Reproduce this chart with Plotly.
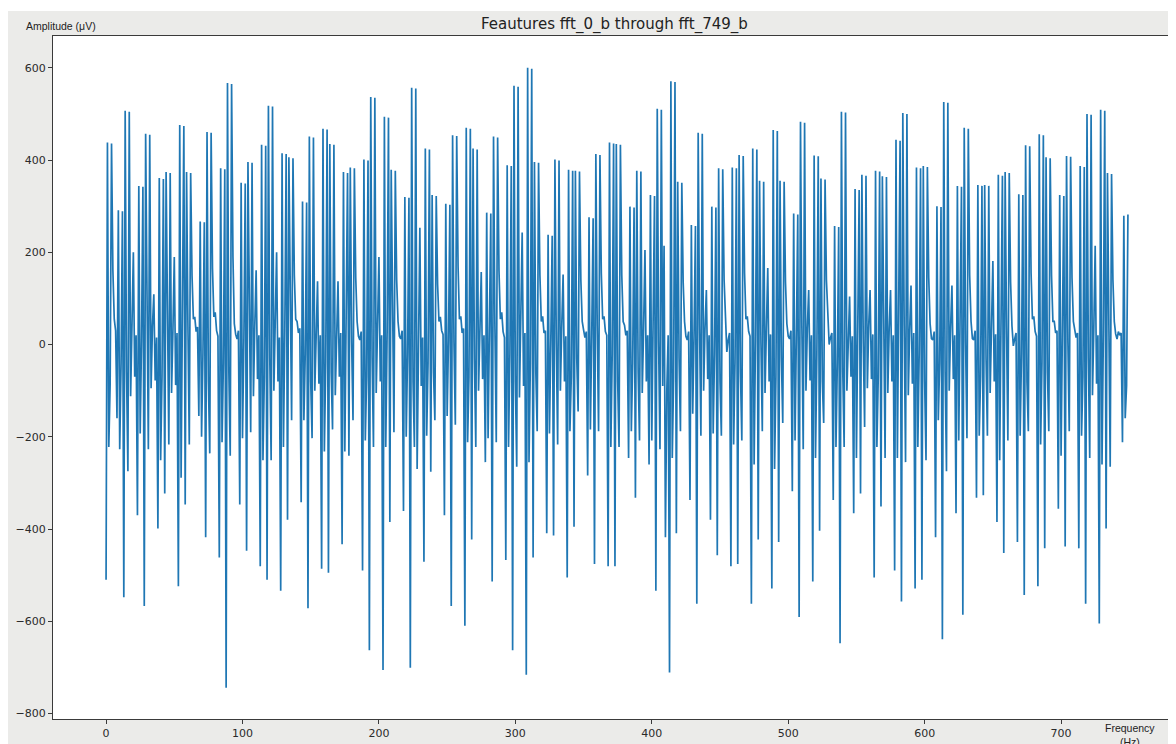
import plotly.graph_objects as go

# Amplitude values (uV), features fft_0_b .. fft_749_b
amp_part1 = [
    -510, 438, -222, -85, 436, 160, 55, 30,
    -160, 291, -227, -40, 289, -548, 507, -60, -275, 505, -112, 35, 200, -70, 20,
    -370, 344, -193, 10, 342, -567, 457, 5, -227, 455, -95, 40, 109, -78, 15,
    -399, 361, -251, -70, 359, -323, 374, -30, -217, 372, -105, 30, 190, -88, 25,
    -524, 476, -289, 25, 474, -347, 374, 40, -217, 372, 150, 55, 60, 28, 38,
    -155, 267, -200, -20, 265, -418, 461, -80, -236, 459, 165, 60, 70, 30, 18,
    -462, 382, -212, -40, 380, -744, 567, -60, -241, 565, 190, 45, 22, 12, 30,
    -347, 351, -203, 10, 349, -447, 396, 5, -190, 394, -112, 40, 161, -75, 20,
    -481, 433, -251, -70, 431, -510, 518, -30, -251, 516, -100, 35, 200, -80, 15,
    -534, 415, -222, 25, 413, -380, 406, 40, -164, 404, 150, 55, 50, 25, 35,
    -342, 310, -164, -20, 308, -572, 451, -80, -203, 449, -100, 30, 137, -85, 20,
]
amp_part2 = [
    -486, 468, -232, -40, 466, -495, 435, -60, -184, 433, -110, 35, 137, -70, 25,
    -433, 374, -232, 10, 372, -241, 384, 5, -164, 382, 145, 50, 18, 10, 28,
    -490, 401, -208, -70, 399, -663, 537, -30, -222, 535, -105, 40, 190, -80, 20,
    -706, 494, -222, 25, 492, -385, 379, 40, -190, 377, 140, 50, 18, 12, 30,
    -361, 320, -200, -20, 318, -701, 557, -80, -222, 555, -270, 30, 253, -90, 15,
    -471, 425, -198, -40, 423, -276, 324, -60, -164, 322, 130, 50, 60, 30, 22,
    -370, 305, -155, 10, 303, -567, 454, 5, -174, 452, 170, 55, 61, 25, 35,
    -610, 470, -212, -70, 468, -423, 425, -30, -222, 423, -100, 35, 157, -75, 20,
    -255, 286, -203, 25, 284, -514, 451, 40, -212, 449, 160, 55, 70, 28, 15,
    -467, 389, -222, -20, 387, -663, 561, -80, -265, 559, -115, 30, 243, -90, 25,
]
amp_part3 = [
    -716, 600, -255, -40, 598, -462, 396, -60, -188, 394, 150, 50, 61, 25, 30,
    -409, 238, -193, 10, 236, -414, 401, 5, -217, 399, -100, 40, 152, -80, 18,
    -505, 379, -188, -70, 377, -395, 377, -30, -145, 375, 140, 50, 32, 15, 28,
    -284, 276, -184, 25, 274, -476, 413, 40, -188, 411, 155, 55, 61, 28, 20,
    -481, 438, -222, -20, 436, -481, 435, -80, -222, 433, 150, 50, 42, 20, 30,
    -246, 299, -188, -40, 297, -332, 377, -60, -208, 375, -105, 35, 205, -80, 20,
    -260, 324, -208, 10, 322, -534, 511, 5, -227, 509, -90, 214, -418, -100, 20,
    -711, 571, -246, -70, 569, -409, 353, -30, -188, 351, 135, 50, 18, 10, 28,
    -337, 259, -150, 25, 257, -562, 459, 40, -198, 457, -100, 35, 118, -75, 20,
    -380, 299, -193, -20, 297, -457, 382, -80, -198, 380, 140, 40, -16, 10, 25,
]
amp_part4 = [
    -481, 384, -217, -40, 382, -476, 411, -60, -208, 409, 155, 55, 61, 28, 18,
    -562, 425, -260, 10, 423, -423, 355, 5, -188, 353, -105, 35, 166, -80, 22,
    -529, 465, -270, -70, 463, -428, 355, -30, -170, 353, 135, 45, 18, 12, 30,
    -318, 284, -208, 25, 282, -591, 483, 40, -227, 481, -100, 35, 118, -78, 20,
    -514, 410, -246, -20, 408, -404, 360, -80, -170, 358, 140, 45, 0, 15, 25,
    -337, 257, -222, -40, 255, -648, 505, -60, -222, 503, -100, 35, 104, -70, 18,
    -366, 337, -246, 10, 335, -323, 368, 5, -179, 366, -95, 40, 118, -75, 22,
    -505, 377, -222, -70, 375, -351, 365, -30, -246, 363, -105, 35, 118, -80, 20,
    -490, 444, -246, 25, 442, -557, 502, 40, -255, 500, -110, 30, 128, -85, 25,
    -529, 384, -222, -20, 382, -510, 387, -80, -251, 385, 145, 45, 13, 10, 28,
]
amp_part5 = [
    -418, 300, -164, -40, 298, -639, 526, -60, -275, 524, -100, 35, 128, -75, 20,
    -366, 344, -208, 10, 342, -586, 470, 5, -203, 468, 150, 50, 13, 10, 30,
    -332, 346, -198, -70, 344, -327, 346, -30, -198, 344, -105, 35, 181, -80, 22,
    -385, 368, -251, 25, 366, -452, 374, 40, -208, 372, 135, 40, -3, 12, 25,
    -428, 326, -198, -20, 324, -543, 432, -80, -188, 430, 155, 55, 61, 28, 18,
    -524, 456, -217, -40, 454, -442, 406, -60, -188, 404, 150, 50, 50, 25, 30,
    -356, 324, -241, 10, 322, -438, 409, 5, -188, 407, 145, 50, 32, 15, 25,
    -442, 387, -198, -70, 385, -562, 500, -30, -246, 498, -110, 35, 214, -85, 20,
    -605, 509, -260, 25, 507, -399, 372, 40, -265, 370, 140, 50, 23, 12, 28,
    20, 25,
    -212, 279, -160, -90, 282,
]

amplitude = amp_part1 + amp_part2 + amp_part3 + amp_part4 + amp_part5
frequency = list(range(len(amplitude)))

x_ticks = [0, 100, 200, 300, 400, 500, 600, 700]
y_ticks = [-800, -600, -400, -200, 0, 200, 400, 600]

title_text = "Feautures fft_0_b through fft_749_b"
y_label = "Amplitude (\u03bcV)"
x_label = "Frequency<br>(Hz)"

# The page body adds an 8px white margin at the top and left,
# so the figure itself is drawn 8px smaller than the window.
OFF = 8
W, H = 1176 - OFF, 744 - OFF
L, R, T, B = 45, 1, 28, 25
pw = W - L - R
ph = H - T - B

def px(x):
    return (x - OFF - L) / pw

def py(y):
    return (H - B - (y - OFF)) / ph

fig = go.Figure()
fig.add_trace(go.Scatter(
    x=frequency, y=amplitude, mode="lines",
    line=dict(color="#1f77b4", width=1.7),
    showlegend=False, hoverinfo="x+y",
))

axis_common = dict(
    showline=True, linecolor="#3a3a3a", linewidth=1, mirror=True,
    ticks="outside", ticklen=4, tickwidth=1, tickcolor="#3a3a3a",
    showgrid=False, zeroline=False,
    tickfont=dict(family="DejaVu Sans", size=11, color="#2a2a2a"),
)

fig.update_layout(
    width=W, height=H,
    margin=dict(l=L, r=R, t=T, b=B, pad=0),
    paper_bgcolor="#ebebe9",
    plot_bgcolor="#ffffff",
    xaxis=dict(range=[-38.9, 783.5], tickvals=x_ticks, **axis_common),
    yaxis=dict(range=[-812, 669], tickvals=y_ticks, **axis_common),
    shapes=[
        dict(type="rect", xref="paper", yref="paper",
             x0=px(0), x1=px(1200), y0=py(11), y1=py(0),
             fillcolor="#ffffff", line=dict(width=0), layer="below"),
    ],
    annotations=[
        dict(text=title_text, xref="paper", yref="paper",
             x=px(614), y=py(24), xanchor="center", yanchor="middle",
             showarrow=False,
             font=dict(family="DejaVu Sans", size=15, color="#222222")),
        dict(text=y_label, xref="paper", yref="paper",
             x=px(24), y=py(26), xanchor="left", yanchor="middle",
             showarrow=False,
             font=dict(family="Liberation Sans", size=10.5, color="#222222")),
        dict(text=x_label, xref="paper", yref="paper",
             x=px(1130), y=py(735), xanchor="center", yanchor="middle",
             showarrow=False, align="center",
             font=dict(family="Liberation Sans", size=10.5, color="#222222")),
    ],
)

fig.write_html("out.html")
